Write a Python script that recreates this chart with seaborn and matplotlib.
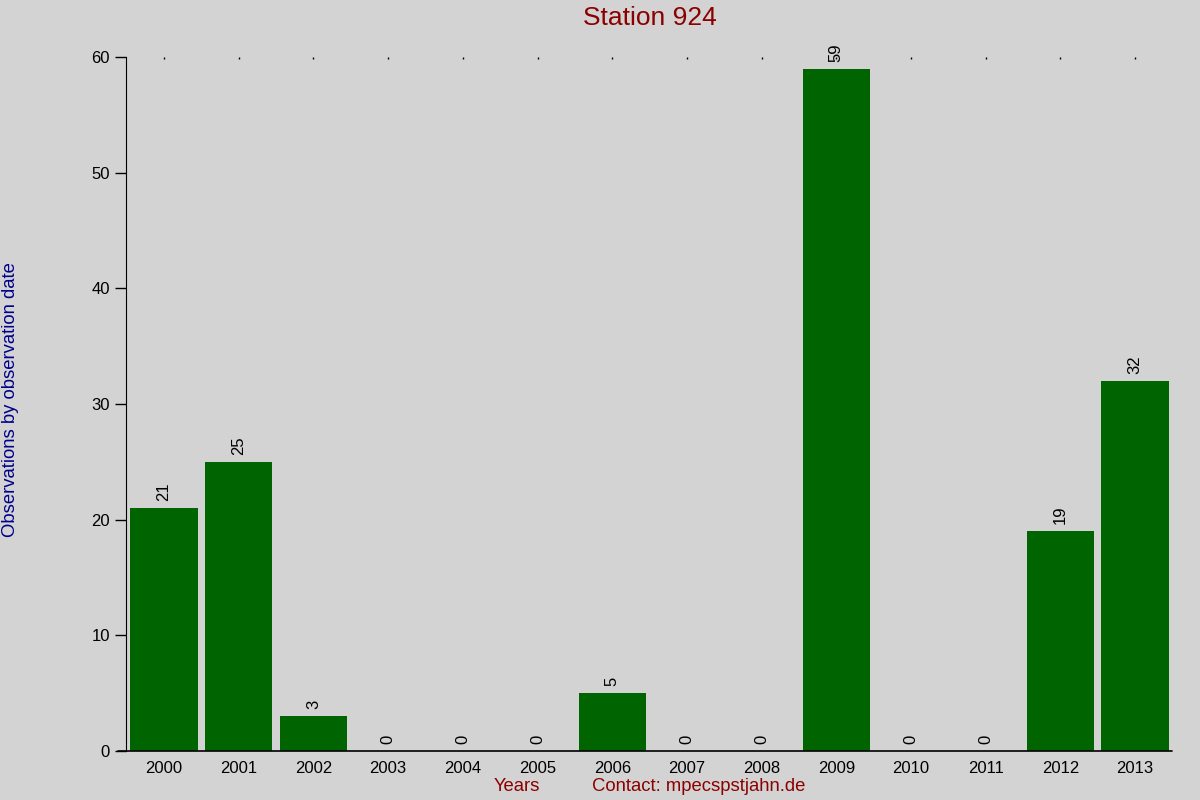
import pandas as pd
import seaborn as sns
import matplotlib.pyplot as plt

years = ["2000", "2001", "2002", "2003", "2004", "2005", "2006",
         "2007", "2008", "2009", "2010", "2011", "2012", "2013"]
counts = [21, 25, 3, 0, 0, 0, 5, 0, 0, 59, 0, 0, 19, 32]

df = pd.DataFrame({"year": years, "count": counts})

sns.set_style("ticks")
plt.rcParams["font.family"] = ["Liberation Sans", "DejaVu Sans"]

fig = plt.figure(figsize=(12, 8), dpi=100, facecolor="#d3d3d3")
ax = fig.add_axes([0.105, 0.06125, 0.872, 0.8675])
ax.set_facecolor("#d3d3d3")

sns.barplot(data=df, x="year", y="count", order=years, color="#006400",
            saturation=1, width=0.9, linewidth=0, ax=ax)

for i, v in enumerate(counts):
    ax.text(i, v + 0.6, str(v), rotation=90, ha="center", va="bottom",
            fontsize=12, color="black")

ax.set_xlim(-0.51, 13.5)
ax.set_ylim(0, 60)
ax.set_yticks(range(0, 61, 10))

for s in ["top", "right", "bottom"]:
    ax.spines[s].set_visible(False)
ax.spines["left"].set_color("black")
ax.axhline(0, xmin=-0.008, xmax=1, color="black", lw=1.2, clip_on=False)

ax.tick_params(axis="y", length=8, width=1, labelsize=12, colors="black")
ax.tick_params(axis="x", bottom=False, top=True, length=1.2, width=1,
               direction="in", labelsize=12, pad=7, colors="black")

ax.set_xlabel("")
ax.set_ylabel("")
fig.text(0.5417, 0.977, "Station 924", ha="center", va="center",
         fontsize=19, color="#8b0000")
fig.text(0.009, 0.5, "Observations by observation date", rotation=90,
         ha="center", va="center", fontsize=13.3, color="#00008b")
fig.text(0.431, 0.017, "Years", ha="center", va="center",
         fontsize=13.3, color="#8b0000")
fig.text(0.582, 0.017, "Contact: mpecspstjahn.de", ha="center", va="center",
         fontsize=13.3, color="#8b0000")

fig.savefig("out.png", dpi=100, facecolor=fig.get_facecolor())
